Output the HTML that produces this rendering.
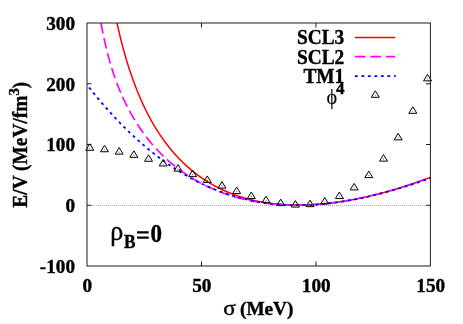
<!DOCTYPE html>
<html><head><meta charset="utf-8"><style>
html,body{margin:0;padding:0;background:#fff;}
svg{display:block;will-change:transform;}
text{font-family:"Liberation Serif",serif;font-weight:bold;font-size:19.7px;fill:#000;stroke:#000;stroke-width:0.4px;stroke-linejoin:round;}
.sym{font-weight:normal;stroke-width:0.15px;}
</style></head><body>
<svg width="463" height="324" viewBox="0 0 463 324">
<rect width="463" height="324" fill="#fff"/>
<path d="M92,205.45 H426" stroke="#aaaaaa" stroke-width="1" stroke-dasharray="1 1" fill="none"/>
<g fill="none" stroke-width="1.65" stroke-linejoin="round">
<path d="M117.01,23.00 L117.49,25.19 L118.06,27.75 L118.63,30.25 L119.21,32.70 L119.78,35.11 L120.35,37.46 L120.93,39.77 L121.50,42.03 L122.07,44.25 L122.65,46.43 L123.22,48.56 L123.79,50.66 L124.37,52.72 L124.94,54.74 L125.51,56.73 L126.09,58.68 L126.66,60.60 L127.23,62.48 L127.80,64.34 L128.38,66.16 L128.95,67.95 L129.52,69.71 L130.10,71.45 L130.67,73.15 L131.24,74.83 L131.82,76.49 L132.39,78.11 L132.96,79.71 L133.54,81.29 L134.11,82.84 L134.68,84.37 L135.25,85.88 L135.83,87.36 L136.40,88.83 L136.97,90.27 L137.55,91.69 L138.12,93.09 L138.69,94.47 L139.27,95.83 L139.84,97.17 L140.41,98.50 L140.99,99.80 L141.56,101.09 L142.13,102.36 L142.70,103.61 L143.28,104.85 L143.85,106.07 L144.42,107.27 L145.00,108.46 L145.57,109.63 L146.14,110.79 L146.72,111.93 L147.29,113.06 L147.86,114.17 L148.44,115.27 L149.01,116.36 L149.58,117.43 L150.16,118.49 L150.73,119.54 L151.30,120.57 L151.87,121.59 L152.45,122.60 L153.02,123.59 L153.59,124.57 L154.17,125.55 L154.74,126.51 L155.31,127.45 L155.89,128.39 L156.46,129.32 L157.03,130.23 L157.61,131.14 L158.18,132.03 L158.75,132.92 L159.32,133.79 L159.90,134.65 L160.47,135.51 L161.04,136.35 L161.62,137.19 L162.19,138.01 L162.76,138.83 L163.34,139.63 L163.91,140.43 L164.48,141.22 L165.06,142.00 L165.63,142.77 L166.20,143.53 L166.78,144.29 L167.35,145.03 L167.92,145.77 L168.49,146.50 L169.07,147.22 L169.64,147.93 L170.21,148.64 L170.79,149.34 L171.36,150.03 L171.93,150.71 L172.51,151.39 L173.08,152.06 L173.65,152.72 L174.23,153.38 L174.80,154.02 L175.37,154.66 L175.94,155.30 L176.52,155.93 L177.09,156.55 L177.66,157.16 L178.24,157.77 L178.81,158.37 L179.38,158.97 L179.96,159.55 L180.53,160.14 L181.10,160.71 L181.68,161.28 L182.25,161.85 L182.82,162.41 L183.39,162.96 L183.97,163.51 L184.54,164.05 L185.11,164.58 L185.69,165.11 L186.26,165.64 L186.83,166.16 L187.41,166.67 L187.98,167.18 L188.55,167.69 L189.13,168.18 L189.70,168.68 L190.27,169.16 L190.85,169.65 L191.42,170.13 L191.99,170.60 L192.56,171.07 L193.14,171.53 L193.71,171.99 L194.28,172.44 L194.86,172.89 L195.43,173.34 L196.00,173.78 L196.58,174.21 L197.15,174.64 L197.72,175.07 L198.30,175.49 L198.87,175.91 L199.44,176.32 L200.01,176.73 L200.59,177.14 L201.16,177.54 L201.73,177.93 L202.31,178.32 L202.88,178.71 L203.45,179.10 L204.03,179.48 L204.60,179.85 L205.17,180.23 L205.75,180.59 L206.32,180.96 L206.89,181.32 L207.46,181.68 L208.04,182.03 L208.61,182.38 L209.18,182.72 L209.76,183.07 L210.33,183.40 L210.90,183.74 L211.48,184.07 L212.05,184.40 L212.62,184.72 L213.20,185.04 L213.77,185.36 L214.34,185.67 L214.92,185.99 L215.49,186.29 L216.06,186.60 L216.63,186.90 L217.21,187.19 L217.78,187.49 L218.35,187.78 L218.93,188.07 L219.50,188.35 L220.07,188.63 L220.65,188.91 L221.22,189.18 L221.79,189.46 L222.37,189.73 L222.94,189.99 L223.51,190.25 L224.08,190.51 L224.66,190.77 L225.23,191.02 L225.80,191.28 L226.38,191.52 L226.95,191.77 L227.52,192.01 L228.10,192.25 L228.67,192.49 L229.24,192.72 L229.82,192.95 L230.39,193.18 L230.96,193.41 L231.54,193.63 L232.11,193.85 L232.68,194.07 L233.25,194.28 L233.83,194.50 L234.40,194.71 L234.97,194.91 L235.55,195.12 L236.12,195.32 L236.69,195.52 L237.27,195.72 L237.84,195.91 L238.41,196.11 L238.99,196.30 L239.56,196.48 L240.13,196.67 L240.70,196.85 L241.28,197.03 L241.85,197.21 L242.42,197.38 L243.00,197.56 L243.57,197.73 L244.14,197.90 L244.72,198.06 L245.29,198.22 L245.86,198.39 L246.44,198.55 L247.01,198.70 L247.58,198.86 L248.15,199.01 L248.73,199.16 L249.30,199.31 L249.87,199.45 L250.45,199.60 L251.02,199.74 L251.59,199.88 L252.17,200.02 L252.74,200.15 L253.31,200.29 L253.89,200.42 L254.46,200.55 L255.03,200.67 L255.61,200.80 L256.18,200.92 L256.75,201.04 L257.32,201.16 L257.90,201.28 L258.47,201.39 L259.04,201.51 L259.62,201.62 L260.19,201.73 L260.76,201.83 L261.34,201.94 L261.91,202.04 L262.48,202.14 L263.06,202.24 L263.63,202.34 L264.20,202.44 L264.77,202.53 L265.35,202.62 L265.92,202.71 L266.49,202.80 L267.07,202.89 L267.64,202.97 L268.21,203.06 L268.79,203.14 L269.36,203.22 L269.93,203.29 L270.51,203.37 L271.08,203.44 L271.65,203.52 L272.23,203.59 L272.80,203.66 L273.37,203.72 L273.94,203.79 L274.52,203.85 L275.09,203.91 L275.66,203.98 L276.24,204.03 L276.81,204.09 L277.38,204.15 L277.96,204.20 L278.53,204.25 L279.10,204.30 L279.68,204.35 L280.25,204.40 L280.82,204.45 L281.39,204.49 L281.97,204.53 L282.54,204.57 L283.11,204.61 L283.69,204.65 L284.26,204.69 L284.83,204.72 L285.41,204.76 L285.98,204.79 L286.55,204.82 L287.13,204.85 L287.70,204.87 L288.27,204.90 L288.84,204.92 L289.42,204.95 L289.99,204.97 L290.56,204.99 L291.14,205.01 L291.71,205.02 L292.28,205.04 L292.86,205.05 L293.43,205.07 L294.00,205.08 L294.58,205.09 L295.15,205.10 L295.72,205.10 L296.30,205.11 L296.87,205.11 L297.44,205.12 L298.01,205.12 L298.59,205.12 L299.16,205.12 L299.73,205.11 L300.31,205.11 L300.88,205.10 L301.45,205.10 L302.03,205.09 L302.60,205.08 L303.17,205.07 L303.75,205.06 L304.32,205.04 L304.89,205.03 L305.46,205.01 L306.04,204.99 L306.61,204.98 L307.18,204.96 L307.76,204.94 L308.33,204.91 L308.90,204.89 L309.48,204.86 L310.05,204.84 L310.62,204.81 L311.20,204.78 L311.77,204.75 L312.34,204.72 L312.91,204.69 L313.49,204.65 L314.06,204.62 L314.63,204.58 L315.21,204.55 L315.78,204.51 L316.35,204.47 L316.93,204.43 L317.50,204.38 L318.07,204.34 L318.65,204.30 L319.22,204.25 L319.79,204.20 L320.37,204.16 L320.94,204.11 L321.51,204.06 L322.08,204.00 L322.66,203.95 L323.23,203.90 L323.80,203.84 L324.38,203.79 L324.95,203.73 L325.52,203.67 L326.10,203.61 L326.67,203.55 L327.24,203.49 L327.82,203.43 L328.39,203.36 L328.96,203.30 L329.53,203.23 L330.11,203.16 L330.68,203.10 L331.25,203.03 L331.83,202.96 L332.40,202.88 L332.97,202.81 L333.55,202.74 L334.12,202.66 L334.69,202.59 L335.27,202.51 L335.84,202.43 L336.41,202.35 L336.99,202.27 L337.56,202.19 L338.13,202.11 L338.70,202.03 L339.28,201.94 L339.85,201.86 L340.42,201.77 L341.00,201.68 L341.57,201.60 L342.14,201.51 L342.72,201.42 L343.29,201.32 L343.86,201.23 L344.44,201.14 L345.01,201.04 L345.58,200.95 L346.15,200.85 L346.73,200.75 L347.30,200.66 L347.87,200.56 L348.45,200.46 L349.02,200.36 L349.59,200.25 L350.17,200.15 L350.74,200.05 L351.31,199.94 L351.89,199.83 L352.46,199.73 L353.03,199.62 L353.60,199.51 L354.18,199.40 L354.75,199.29 L355.32,199.18 L355.90,199.07 L356.47,198.95 L357.04,198.84 L357.62,198.72 L358.19,198.61 L358.76,198.49 L359.34,198.37 L359.91,198.25 L360.48,198.13 L361.06,198.01 L361.63,197.89 L362.20,197.76 L362.77,197.64 L363.35,197.52 L363.92,197.39 L364.49,197.26 L365.07,197.14 L365.64,197.01 L366.21,196.88 L366.79,196.75 L367.36,196.62 L367.93,196.49 L368.51,196.36 L369.08,196.22 L369.65,196.09 L370.22,195.95 L370.80,195.82 L371.37,195.68 L371.94,195.54 L372.52,195.40 L373.09,195.26 L373.66,195.12 L374.24,194.98 L374.81,194.84 L375.38,194.70 L375.96,194.55 L376.53,194.41 L377.10,194.26 L377.68,194.12 L378.25,193.97 L378.82,193.82 L379.39,193.67 L379.97,193.52 L380.54,193.37 L381.11,193.22 L381.69,193.07 L382.26,192.92 L382.83,192.76 L383.41,192.61 L383.98,192.45 L384.55,192.30 L385.13,192.14 L385.70,191.98 L386.27,191.83 L386.84,191.67 L387.42,191.51 L387.99,191.35 L388.56,191.18 L389.14,191.02 L389.71,190.86 L390.28,190.70 L390.86,190.53 L391.43,190.36 L392.00,190.20 L392.58,190.03 L393.15,189.86 L393.72,189.70 L394.29,189.53 L394.87,189.36 L395.44,189.18 L396.01,189.01 L396.59,188.84 L397.16,188.67 L397.73,188.49 L398.31,188.32 L398.88,188.14 L399.45,187.97 L400.03,187.79 L400.60,187.61 L401.17,187.43 L401.75,187.26 L402.32,187.08 L402.89,186.89 L403.46,186.71 L404.04,186.53 L404.61,186.35 L405.18,186.16 L405.76,185.98 L406.33,185.80 L406.90,185.61 L407.48,185.42 L408.05,185.24 L408.62,185.05 L409.20,184.86 L409.77,184.67 L410.34,184.48 L410.91,184.29 L411.49,184.10 L412.06,183.91 L412.63,183.71 L413.21,183.52 L413.78,183.32 L414.35,183.13 L414.93,182.93 L415.50,182.74 L416.07,182.54 L416.65,182.34 L417.22,182.14 L417.79,181.94 L418.36,181.74 L418.94,181.54 L419.51,181.34 L420.08,181.14 L420.66,180.94 L421.23,180.73 L421.80,180.53 L422.38,180.33 L422.95,180.12 L423.52,179.91 L424.10,179.71 L424.67,179.50 L425.24,179.29 L425.82,179.08 L426.39,178.87 L426.96,178.66 L427.53,178.45 L428.11,178.24 L428.68,178.03 L429.25,177.82 L429.83,177.60 L430.40,177.39" stroke="#ff0000" stroke-width="1.5"/>
<path d="M100.99,23.00 L101.44,25.50 L102.02,28.57 L102.59,31.52 L103.16,34.36 L103.73,37.11 L104.31,39.77 L104.88,42.34 L105.45,44.83 L106.03,47.25 L106.60,49.60 L107.17,51.88 L107.75,54.09 L108.32,56.25 L108.89,58.35 L109.47,60.40 L110.04,62.40 L110.61,64.34 L111.18,66.24 L111.76,68.10 L112.33,69.92 L112.90,71.69 L113.48,73.43 L114.05,75.13 L114.62,76.80 L115.20,78.43 L115.77,80.02 L116.34,81.59 L116.92,83.13 L117.49,84.63 L118.06,86.11 L118.63,87.56 L119.21,88.99 L119.78,90.39 L120.35,91.77 L120.93,93.12 L121.50,94.45 L122.07,95.75 L122.65,97.04 L123.22,98.31 L123.79,99.55 L124.37,100.78 L124.94,101.98 L125.51,103.17 L126.09,104.34 L126.66,105.49 L127.23,106.63 L127.80,107.75 L128.38,108.85 L128.95,109.94 L129.52,111.01 L130.10,112.06 L130.67,113.11 L131.24,114.13 L131.82,115.15 L132.39,116.15 L132.96,117.14 L133.54,118.11 L134.11,119.07 L134.68,120.02 L135.25,120.96 L135.83,121.89 L136.40,122.80 L136.97,123.70 L137.55,124.60 L138.12,125.48 L138.69,126.35 L139.27,127.21 L139.84,128.06 L140.41,128.90 L140.99,129.73 L141.56,130.55 L142.13,131.36 L142.70,132.16 L143.28,132.96 L143.85,133.74 L144.42,134.52 L145.00,135.28 L145.57,136.04 L146.14,136.79 L146.72,137.53 L147.29,138.27 L147.86,138.99 L148.44,139.71 L149.01,140.42 L149.58,141.13 L150.16,141.82 L150.73,142.51 L151.30,143.19 L151.87,143.87 L152.45,144.53 L153.02,145.20 L153.59,145.85 L154.17,146.50 L154.74,147.14 L155.31,147.77 L155.89,148.40 L156.46,149.02 L157.03,149.64 L157.61,150.25 L158.18,150.85 L158.75,151.45 L159.32,152.04 L159.90,152.63 L160.47,153.21 L161.04,153.78 L161.62,154.35 L162.19,154.92 L162.76,155.48 L163.34,156.03 L163.91,156.58 L164.48,157.12 L165.06,157.66 L165.63,158.19 L166.20,158.72 L166.78,159.24 L167.35,159.76 L167.92,160.27 L168.49,160.78 L169.07,161.29 L169.64,161.79 L170.21,162.28 L170.79,162.77 L171.36,163.26 L171.93,163.74 L172.51,164.21 L173.08,164.69 L173.65,165.16 L174.23,165.62 L174.80,166.08 L175.37,166.53 L175.94,166.99 L176.52,167.43 L177.09,167.88 L177.66,168.32 L178.24,168.75 L178.81,169.18 L179.38,169.61 L179.96,170.03 L180.53,170.45 L181.10,170.87 L181.68,171.28 L182.25,171.69 L182.82,172.10 L183.39,172.50 L183.97,172.90 L184.54,173.29 L185.11,173.68 L185.69,174.07 L186.26,174.45 L186.83,174.83 L187.41,175.21 L187.98,175.58 L188.55,175.95 L189.13,176.32 L189.70,176.68 L190.27,177.04 L190.85,177.40 L191.42,177.76 L191.99,178.11 L192.56,178.45 L193.14,178.80 L193.71,179.14 L194.28,179.48 L194.86,179.81 L195.43,180.15 L196.00,180.48 L196.58,180.80 L197.15,181.13 L197.72,181.45 L198.30,181.76 L198.87,182.08 L199.44,182.39 L200.01,182.70 L200.59,183.01 L201.16,183.31 L201.73,183.61 L202.31,183.91 L202.88,184.20 L203.45,184.49 L204.03,184.78 L204.60,185.07 L205.17,185.36 L205.75,185.64 L206.32,185.92 L206.89,186.19 L207.46,186.47 L208.04,186.74 L208.61,187.01 L209.18,187.27 L209.76,187.54 L210.33,187.80 L210.90,188.06 L211.48,188.31 L212.05,188.57 L212.62,188.82 L213.20,189.07 L213.77,189.31 L214.34,189.56 L214.92,189.80 L215.49,190.04 L216.06,190.27 L216.63,190.51 L217.21,190.74 L217.78,190.97 L218.35,191.20 L218.93,191.43 L219.50,191.65 L220.07,191.87 L220.65,192.09 L221.22,192.30 L221.79,192.52 L222.37,192.73 L222.94,192.94 L223.51,193.15 L224.08,193.35 L224.66,193.56 L225.23,193.76 L225.80,193.96 L226.38,194.15 L226.95,194.35 L227.52,194.54 L228.10,194.73 L228.67,194.92 L229.24,195.11 L229.82,195.29 L230.39,195.48 L230.96,195.66 L231.54,195.84 L232.11,196.01 L232.68,196.19 L233.25,196.36 L233.83,196.53 L234.40,196.70 L234.97,196.86 L235.55,197.03 L236.12,197.19 L236.69,197.35 L237.27,197.51 L237.84,197.67 L238.41,197.82 L238.99,197.98 L239.56,198.13 L240.13,198.28 L240.70,198.43 L241.28,198.57 L241.85,198.72 L242.42,198.86 L243.00,199.00 L243.57,199.14 L244.14,199.27 L244.72,199.41 L245.29,199.54 L245.86,199.67 L246.44,199.80 L247.01,199.93 L247.58,200.06 L248.15,200.18 L248.73,200.31 L249.30,200.43 L249.87,200.55 L250.45,200.66 L251.02,200.78 L251.59,200.89 L252.17,201.01 L252.74,201.12 L253.31,201.23 L253.89,201.33 L254.46,201.44 L255.03,201.54 L255.61,201.64 L256.18,201.75 L256.75,201.84 L257.32,201.94 L257.90,202.04 L258.47,202.13 L259.04,202.23 L259.62,202.32 L260.19,202.41 L260.76,202.49 L261.34,202.58 L261.91,202.67 L262.48,202.75 L263.06,202.83 L263.63,202.91 L264.20,202.99 L264.77,203.07 L265.35,203.14 L265.92,203.22 L266.49,203.29 L267.07,203.36 L267.64,203.43 L268.21,203.50 L268.79,203.56 L269.36,203.63 L269.93,203.69 L270.51,203.75 L271.08,203.81 L271.65,203.87 L272.23,203.93 L272.80,203.99 L273.37,204.04 L273.94,204.09 L274.52,204.15 L275.09,204.20 L275.66,204.25 L276.24,204.29 L276.81,204.34 L277.38,204.38 L277.96,204.43 L278.53,204.47 L279.10,204.51 L279.68,204.55 L280.25,204.59 L280.82,204.62 L281.39,204.66 L281.97,204.69 L282.54,204.72 L283.11,204.75 L283.69,204.78 L284.26,204.81 L284.83,204.84 L285.41,204.86 L285.98,204.89 L286.55,204.91 L287.13,204.93 L287.70,204.95 L288.27,204.97 L288.84,204.99 L289.42,205.00 L289.99,205.02 L290.56,205.03 L291.14,205.04 L291.71,205.05 L292.28,205.06 L292.86,205.07 L293.43,205.08 L294.00,205.09 L294.58,205.09 L295.15,205.09 L295.72,205.10 L296.30,205.10 L296.87,205.10 L297.44,205.09 L298.01,205.09 L298.59,205.09 L299.16,205.08 L299.73,205.07 L300.31,205.07 L300.88,205.06 L301.45,205.05 L302.03,205.03 L302.60,205.02 L303.17,205.01 L303.75,204.99 L304.32,204.98 L304.89,204.96 L305.46,204.94 L306.04,204.92 L306.61,204.90 L307.18,204.87 L307.76,204.85 L308.33,204.83 L308.90,204.80 L309.48,204.77 L310.05,204.74 L310.62,204.71 L311.20,204.68 L311.77,204.65 L312.34,204.62 L312.91,204.58 L313.49,204.55 L314.06,204.51 L314.63,204.48 L315.21,204.44 L315.78,204.40 L316.35,204.36 L316.93,204.31 L317.50,204.27 L318.07,204.23 L318.65,204.18 L319.22,204.13 L319.79,204.09 L320.37,204.04 L320.94,203.99 L321.51,203.94 L322.08,203.88 L322.66,203.83 L323.23,203.78 L323.80,203.72 L324.38,203.67 L324.95,203.61 L325.52,203.55 L326.10,203.49 L326.67,203.43 L327.24,203.37 L327.82,203.30 L328.39,203.24 L328.96,203.18 L329.53,203.11 L330.11,203.04 L330.68,202.97 L331.25,202.90 L331.83,202.83 L332.40,202.76 L332.97,202.69 L333.55,202.62 L334.12,202.54 L334.69,202.47 L335.27,202.39 L335.84,202.31 L336.41,202.24 L336.99,202.16 L337.56,202.08 L338.13,201.99 L338.70,201.91 L339.28,201.83 L339.85,201.74 L340.42,201.66 L341.00,201.57 L341.57,201.48 L342.14,201.40 L342.72,201.31 L343.29,201.22 L343.86,201.12 L344.44,201.03 L345.01,200.94 L345.58,200.84 L346.15,200.75 L346.73,200.65 L347.30,200.55 L347.87,200.46 L348.45,200.36 L349.02,200.26 L349.59,200.16 L350.17,200.05 L350.74,199.95 L351.31,199.85 L351.89,199.74 L352.46,199.64 L353.03,199.53 L353.60,199.42 L354.18,199.31 L354.75,199.20 L355.32,199.09 L355.90,198.98 L356.47,198.87 L357.04,198.75 L357.62,198.64 L358.19,198.53 L358.76,198.41 L359.34,198.29 L359.91,198.17 L360.48,198.06 L361.06,197.94 L361.63,197.81 L362.20,197.69 L362.77,197.57 L363.35,197.45 L363.92,197.32 L364.49,197.20 L365.07,197.07 L365.64,196.95 L366.21,196.82 L366.79,196.69 L367.36,196.56 L367.93,196.43 L368.51,196.30 L369.08,196.17 L369.65,196.03 L370.22,195.90 L370.80,195.76 L371.37,195.63 L371.94,195.49 L372.52,195.35 L373.09,195.22 L373.66,195.08 L374.24,194.94 L374.81,194.80 L375.38,194.65 L375.96,194.51 L376.53,194.37 L377.10,194.22 L377.68,194.08 L378.25,193.93 L378.82,193.79 L379.39,193.64 L379.97,193.49 L380.54,193.34 L381.11,193.19 L381.69,193.04 L382.26,192.89 L382.83,192.74 L383.41,192.58 L383.98,192.43 L384.55,192.27 L385.13,192.12 L385.70,191.96 L386.27,191.80 L386.84,191.65 L387.42,191.49 L387.99,191.33 L388.56,191.17 L389.14,191.01 L389.71,190.84 L390.28,190.68 L390.86,190.52 L391.43,190.35 L392.00,190.19 L392.58,190.02 L393.15,189.85 L393.72,189.69 L394.29,189.52 L394.87,189.35 L395.44,189.18 L396.01,189.01 L396.59,188.84 L397.16,188.66 L397.73,188.49 L398.31,188.32 L398.88,188.14 L399.45,187.97 L400.03,187.79 L400.60,187.61 L401.17,187.44 L401.75,187.26 L402.32,187.08 L402.89,186.90 L403.46,186.72 L404.04,186.54 L404.61,186.36 L405.18,186.17 L405.76,185.99 L406.33,185.80 L406.90,185.62 L407.48,185.43 L408.05,185.25 L408.62,185.06 L409.20,184.87 L409.77,184.68 L410.34,184.49 L410.91,184.30 L411.49,184.11 L412.06,183.92 L412.63,183.73 L413.21,183.54 L413.78,183.34 L414.35,183.15 L414.93,182.95 L415.50,182.76 L416.07,182.56 L416.65,182.36 L417.22,182.16 L417.79,181.97 L418.36,181.77 L418.94,181.57 L419.51,181.36 L420.08,181.16 L420.66,180.96 L421.23,180.76 L421.80,180.55 L422.38,180.35 L422.95,180.15 L423.52,179.94 L424.10,179.73 L424.67,179.53 L425.24,179.32 L425.82,179.11 L426.39,178.90 L426.96,178.69 L427.53,178.48 L428.11,178.27 L428.68,178.06 L429.25,177.85 L429.83,177.63 L430.40,177.42" stroke="#ff00ff" stroke-dasharray="10.7 4.75"/>
<path d="M87.11,84.93 L87.69,85.67 L88.26,86.40 L88.83,87.13 L89.41,87.86 L89.98,88.58 L90.55,89.30 L91.13,90.02 L91.70,90.74 L92.27,91.45 L92.85,92.16 L93.42,92.87 L93.99,93.57 L94.56,94.28 L95.14,94.98 L95.71,95.68 L96.28,96.37 L96.86,97.06 L97.43,97.75 L98.00,98.44 L98.58,99.13 L99.15,99.81 L99.72,100.49 L100.30,101.17 L100.87,101.84 L101.44,102.51 L102.02,103.18 L102.59,103.85 L103.16,104.51 L103.73,105.17 L104.31,105.83 L104.88,106.49 L105.45,107.14 L106.03,107.80 L106.60,108.45 L107.17,109.09 L107.75,109.74 L108.32,110.38 L108.89,111.02 L109.47,111.65 L110.04,112.29 L110.61,112.92 L111.18,113.55 L111.76,114.17 L112.33,114.80 L112.90,115.42 L113.48,116.04 L114.05,116.65 L114.62,117.27 L115.20,117.88 L115.77,118.49 L116.34,119.10 L116.92,119.70 L117.49,120.30 L118.06,120.90 L118.63,121.50 L119.21,122.09 L119.78,122.68 L120.35,123.27 L120.93,123.86 L121.50,124.44 L122.07,125.02 L122.65,125.60 L123.22,126.18 L123.79,126.76 L124.37,127.33 L124.94,127.90 L125.51,128.46 L126.09,129.03 L126.66,129.59 L127.23,130.15 L127.80,130.71 L128.38,131.27 L128.95,131.82 L129.52,132.37 L130.10,132.92 L130.67,133.46 L131.24,134.01 L131.82,134.55 L132.39,135.08 L132.96,135.62 L133.54,136.15 L134.11,136.69 L134.68,137.21 L135.25,137.74 L135.83,138.27 L136.40,138.79 L136.97,139.31 L137.55,139.82 L138.12,140.34 L138.69,140.85 L139.27,141.36 L139.84,141.87 L140.41,142.38 L140.99,142.88 L141.56,143.38 L142.13,143.88 L142.70,144.37 L143.28,144.87 L143.85,145.36 L144.42,145.85 L145.00,146.34 L145.57,146.82 L146.14,147.30 L146.72,147.78 L147.29,148.26 L147.86,148.74 L148.44,149.21 L149.01,149.68 L149.58,150.15 L150.16,150.61 L150.73,151.08 L151.30,151.54 L151.87,152.00 L152.45,152.46 L153.02,152.91 L153.59,153.36 L154.17,153.81 L154.74,154.26 L155.31,154.71 L155.89,155.15 L156.46,155.59 L157.03,156.03 L157.61,156.47 L158.18,156.91 L158.75,157.34 L159.32,157.77 L159.90,158.20 L160.47,158.62 L161.04,159.05 L161.62,159.47 L162.19,159.89 L162.76,160.30 L163.34,160.72 L163.91,161.13 L164.48,161.54 L165.06,161.95 L165.63,162.36 L166.20,162.76 L166.78,163.16 L167.35,163.56 L167.92,163.96 L168.49,164.36 L169.07,164.75 L169.64,165.14 L170.21,165.53 L170.79,165.91 L171.36,166.30 L171.93,166.68 L172.51,167.06 L173.08,167.44 L173.65,167.82 L174.23,168.19 L174.80,168.56 L175.37,168.93 L175.94,169.30 L176.52,169.66 L177.09,170.03 L177.66,170.39 L178.24,170.75 L178.81,171.10 L179.38,171.46 L179.96,171.81 L180.53,172.16 L181.10,172.51 L181.68,172.86 L182.25,173.20 L182.82,173.54 L183.39,173.89 L183.97,174.22 L184.54,174.56 L185.11,174.89 L185.69,175.23 L186.26,175.56 L186.83,175.88 L187.41,176.21 L187.98,176.53 L188.55,176.85 L189.13,177.17 L189.70,177.49 L190.27,177.81 L190.85,178.12 L191.42,178.43 L191.99,178.74 L192.56,179.05 L193.14,179.36 L193.71,179.66 L194.28,179.96 L194.86,180.26 L195.43,180.56 L196.00,180.85 L196.58,181.15 L197.15,181.44 L197.72,181.73 L198.30,182.02 L198.87,182.30 L199.44,182.59 L200.01,182.87 L200.59,183.15 L201.16,183.43 L201.73,183.70 L202.31,183.98 L202.88,184.25 L203.45,184.52 L204.03,184.79 L204.60,185.05 L205.17,185.32 L205.75,185.58 L206.32,185.84 L206.89,186.10 L207.46,186.35 L208.04,186.61 L208.61,186.86 L209.18,187.11 L209.76,187.36 L210.33,187.61 L210.90,187.85 L211.48,188.09 L212.05,188.34 L212.62,188.58 L213.20,188.81 L213.77,189.05 L214.34,189.28 L214.92,189.51 L215.49,189.74 L216.06,189.97 L216.63,190.20 L217.21,190.42 L217.78,190.65 L218.35,190.87 L218.93,191.08 L219.50,191.30 L220.07,191.52 L220.65,191.73 L221.22,191.94 L221.79,192.15 L222.37,192.36 L222.94,192.56 L223.51,192.77 L224.08,192.97 L224.66,193.17 L225.23,193.37 L225.80,193.57 L226.38,193.76 L226.95,193.96 L227.52,194.15 L228.10,194.34 L228.67,194.53 L229.24,194.71 L229.82,194.90 L230.39,195.08 L230.96,195.26 L231.54,195.44 L232.11,195.62 L232.68,195.79 L233.25,195.96 L233.83,196.14 L234.40,196.31 L234.97,196.48 L235.55,196.64 L236.12,196.81 L236.69,196.97 L237.27,197.13 L237.84,197.29 L238.41,197.45 L238.99,197.61 L239.56,197.76 L240.13,197.91 L240.70,198.07 L241.28,198.22 L241.85,198.36 L242.42,198.51 L243.00,198.65 L243.57,198.80 L244.14,198.94 L244.72,199.08 L245.29,199.22 L245.86,199.35 L246.44,199.49 L247.01,199.62 L247.58,199.75 L248.15,199.88 L248.73,200.01 L249.30,200.13 L249.87,200.26 L250.45,200.38 L251.02,200.50 L251.59,200.62 L252.17,200.74 L252.74,200.85 L253.31,200.97 L253.89,201.08 L254.46,201.19 L255.03,201.30 L255.61,201.41 L256.18,201.52 L256.75,201.62 L257.32,201.73 L257.90,201.83 L258.47,201.93 L259.04,202.03 L259.62,202.12 L260.19,202.22 L260.76,202.31 L261.34,202.41 L261.91,202.50 L262.48,202.59 L263.06,202.67 L263.63,202.76 L264.20,202.84 L264.77,202.93 L265.35,203.01 L265.92,203.09 L266.49,203.17 L267.07,203.24 L267.64,203.32 L268.21,203.39 L268.79,203.46 L269.36,203.53 L269.93,203.60 L270.51,203.67 L271.08,203.74 L271.65,203.80 L272.23,203.86 L272.80,203.93 L273.37,203.99 L273.94,204.04 L274.52,204.10 L275.09,204.16 L275.66,204.21 L276.24,204.26 L276.81,204.31 L277.38,204.36 L277.96,204.41 L278.53,204.46 L279.10,204.50 L279.68,204.55 L280.25,204.59 L280.82,204.63 L281.39,204.67 L281.97,204.71 L282.54,204.75 L283.11,204.78 L283.69,204.82 L284.26,204.85 L284.83,204.88 L285.41,204.91 L285.98,204.94 L286.55,204.96 L287.13,204.99 L287.70,205.01 L288.27,205.04 L288.84,205.06 L289.42,205.08 L289.99,205.09 L290.56,205.11 L291.14,205.13 L291.71,205.14 L292.28,205.15 L292.86,205.17 L293.43,205.18 L294.00,205.18 L294.58,205.19 L295.15,205.20 L295.72,205.20 L296.30,205.21 L296.87,205.21 L297.44,205.21 L298.01,205.21 L298.59,205.21 L299.16,205.21 L299.73,205.21 L300.31,205.20 L300.88,205.19 L301.45,205.19 L302.03,205.18 L302.60,205.17 L303.17,205.16 L303.75,205.14 L304.32,205.13 L304.89,205.12 L305.46,205.10 L306.04,205.08 L306.61,205.06 L307.18,205.04 L307.76,205.02 L308.33,205.00 L308.90,204.98 L309.48,204.95 L310.05,204.93 L310.62,204.90 L311.20,204.87 L311.77,204.84 L312.34,204.81 L312.91,204.78 L313.49,204.74 L314.06,204.71 L314.63,204.67 L315.21,204.64 L315.78,204.60 L316.35,204.56 L316.93,204.52 L317.50,204.48 L318.07,204.43 L318.65,204.39 L319.22,204.34 L319.79,204.30 L320.37,204.25 L320.94,204.20 L321.51,204.15 L322.08,204.10 L322.66,204.05 L323.23,203.99 L323.80,203.94 L324.38,203.88 L324.95,203.83 L325.52,203.77 L326.10,203.71 L326.67,203.65 L327.24,203.59 L327.82,203.53 L328.39,203.46 L328.96,203.40 L329.53,203.33 L330.11,203.27 L330.68,203.20 L331.25,203.13 L331.83,203.06 L332.40,202.99 L332.97,202.92 L333.55,202.84 L334.12,202.77 L334.69,202.70 L335.27,202.62 L335.84,202.54 L336.41,202.46 L336.99,202.38 L337.56,202.30 L338.13,202.22 L338.70,202.14 L339.28,202.06 L339.85,201.97 L340.42,201.88 L341.00,201.80 L341.57,201.71 L342.14,201.62 L342.72,201.53 L343.29,201.44 L343.86,201.35 L344.44,201.26 L345.01,201.16 L345.58,201.07 L346.15,200.97 L346.73,200.88 L347.30,200.78 L347.87,200.68 L348.45,200.58 L349.02,200.48 L349.59,200.38 L350.17,200.27 L350.74,200.17 L351.31,200.07 L351.89,199.96 L352.46,199.85 L353.03,199.75 L353.60,199.64 L354.18,199.53 L354.75,199.42 L355.32,199.31 L355.90,199.20 L356.47,199.08 L357.04,198.97 L357.62,198.86 L358.19,198.74 L358.76,198.62 L359.34,198.51 L359.91,198.39 L360.48,198.27 L361.06,198.15 L361.63,198.03 L362.20,197.91 L362.77,197.78 L363.35,197.66 L363.92,197.54 L364.49,197.41 L365.07,197.28 L365.64,197.16 L366.21,197.03 L366.79,196.90 L367.36,196.77 L367.93,196.64 L368.51,196.51 L369.08,196.38 L369.65,196.25 L370.22,196.11 L370.80,195.98 L371.37,195.84 L371.94,195.71 L372.52,195.57 L373.09,195.43 L373.66,195.29 L374.24,195.15 L374.81,195.01 L375.38,194.87 L375.96,194.73 L376.53,194.59 L377.10,194.45 L377.68,194.30 L378.25,194.16 L378.82,194.01 L379.39,193.87 L379.97,193.72 L380.54,193.57 L381.11,193.42 L381.69,193.27 L382.26,193.12 L382.83,192.97 L383.41,192.82 L383.98,192.67 L384.55,192.52 L385.13,192.36 L385.70,192.21 L386.27,192.05 L386.84,191.90 L387.42,191.74 L387.99,191.58 L388.56,191.43 L389.14,191.27 L389.71,191.11 L390.28,190.95 L390.86,190.79 L391.43,190.63 L392.00,190.47 L392.58,190.30 L393.15,190.14 L393.72,189.98 L394.29,189.81 L394.87,189.65 L395.44,189.48 L396.01,189.31 L396.59,189.15 L397.16,188.98 L397.73,188.81 L398.31,188.64 L398.88,188.47 L399.45,188.30 L400.03,188.13 L400.60,187.96 L401.17,187.79 L401.75,187.62 L402.32,187.44 L402.89,187.27 L403.46,187.09 L404.04,186.92 L404.61,186.74 L405.18,186.57 L405.76,186.39 L406.33,186.21 L406.90,186.04 L407.48,185.86 L408.05,185.68 L408.62,185.50 L409.20,185.32 L409.77,185.14 L410.34,184.96 L410.91,184.78 L411.49,184.60 L412.06,184.41 L412.63,184.23 L413.21,184.05 L413.78,183.86 L414.35,183.68 L414.93,183.49 L415.50,183.31 L416.07,183.12 L416.65,182.93 L417.22,182.75 L417.79,182.56 L418.36,182.37 L418.94,182.18 L419.51,181.99 L420.08,181.80 L420.66,181.61 L421.23,181.42 L421.80,181.23 L422.38,181.04 L422.95,180.85 L423.52,180.66 L424.10,180.46 L424.67,180.27 L425.24,180.08 L425.82,179.88 L426.39,179.69 L426.96,179.49 L427.53,179.30 L428.11,179.10 L428.68,178.91 L429.25,178.71 L429.83,178.51 L430.40,178.32" stroke="#0000ff" stroke-width="1.8" stroke-dasharray="2.8 3.7" stroke-dashoffset="3.2"/>
<path d="M354.9,37.45 H395.2" stroke="#ff0000" stroke-width="1.5"/>
<path d="M354.9,56.6 H395.1" stroke="#ff00ff" stroke-dasharray="10.7 4.75"/>
<path d="M354.9,76.1 H395.8" stroke="#0000ff" stroke-width="1.8" stroke-dasharray="2.8 3.7"/>
</g>
<g fill="none" stroke="#000" stroke-width="1"><path d="M85.81,150.30 L93.81,150.30 L89.81,143.80 Z"/><circle cx="89.81" cy="148.30" r="0.55" fill="#555" stroke="none"/><path d="M100.49,151.76 L108.49,151.76 L104.49,145.26 Z"/><circle cx="104.49" cy="149.76" r="0.55" fill="#555" stroke="none"/><path d="M115.17,154.12 L123.17,154.12 L119.17,147.62 Z"/><circle cx="119.17" cy="152.12" r="0.55" fill="#555" stroke="none"/><path d="M129.86,157.32 L137.86,157.32 L133.86,150.82 Z"/><circle cx="133.86" cy="155.32" r="0.55" fill="#555" stroke="none"/><path d="M144.54,161.29 L152.54,161.29 L148.54,154.79 Z"/><circle cx="148.54" cy="159.29" r="0.55" fill="#555" stroke="none"/><path d="M159.22,165.93 L167.22,165.93 L163.22,159.43 Z"/><circle cx="163.22" cy="163.93" r="0.55" fill="#555" stroke="none"/><path d="M173.91,171.10 L181.91,171.10 L177.91,164.60 Z"/><circle cx="177.91" cy="169.10" r="0.55" fill="#555" stroke="none"/><path d="M188.59,176.66 L196.59,176.66 L192.59,170.16 Z"/><circle cx="192.59" cy="174.66" r="0.55" fill="#555" stroke="none"/><path d="M203.27,182.41 L211.27,182.41 L207.27,175.91 Z"/><circle cx="207.27" cy="180.41" r="0.55" fill="#555" stroke="none"/><path d="M217.96,188.14 L225.96,188.14 L221.96,181.64 Z"/><circle cx="221.96" cy="186.14" r="0.55" fill="#555" stroke="none"/><path d="M232.64,193.60 L240.64,193.60 L236.64,187.10 Z"/><circle cx="236.64" cy="191.60" r="0.55" fill="#555" stroke="none"/><path d="M247.32,198.54 L255.32,198.54 L251.32,192.04 Z"/><circle cx="251.32" cy="196.54" r="0.55" fill="#555" stroke="none"/><path d="M262.01,202.66 L270.01,202.66 L266.01,196.16 Z"/><circle cx="266.01" cy="200.66" r="0.55" fill="#555" stroke="none"/><path d="M276.69,205.62 L284.69,205.62 L280.69,199.12 Z"/><circle cx="280.69" cy="203.62" r="0.55" fill="#555" stroke="none"/><path d="M291.37,207.08 L299.37,207.08 L295.37,200.58 Z"/><circle cx="295.37" cy="205.08" r="0.55" fill="#555" stroke="none"/><path d="M306.06,206.66 L314.06,206.66 L310.06,200.16 Z"/><circle cx="310.06" cy="204.66" r="0.55" fill="#555" stroke="none"/><path d="M320.74,203.95 L328.74,203.95 L324.74,197.45 Z"/><circle cx="324.74" cy="201.95" r="0.55" fill="#555" stroke="none"/><path d="M335.42,198.52 L343.42,198.52 L339.42,192.02 Z"/><circle cx="339.42" cy="196.52" r="0.55" fill="#555" stroke="none"/><path d="M350.11,189.90 L358.11,189.90 L354.11,183.40 Z"/><circle cx="354.11" cy="187.90" r="0.55" fill="#555" stroke="none"/><path d="M364.79,177.60 L372.79,177.60 L368.79,171.10 Z"/><circle cx="368.79" cy="175.60" r="0.55" fill="#555" stroke="none"/><path d="M379.47,161.11 L387.47,161.11 L383.47,154.61 Z"/><circle cx="383.47" cy="159.11" r="0.55" fill="#555" stroke="none"/><path d="M394.16,139.87 L402.16,139.87 L398.16,133.37 Z"/><circle cx="398.16" cy="137.87" r="0.55" fill="#555" stroke="none"/><path d="M408.84,113.32 L416.84,113.32 L412.84,106.82 Z"/><circle cx="412.84" cy="111.32" r="0.55" fill="#555" stroke="none"/><path d="M423.52,80.85 L431.52,80.85 L427.52,74.35 Z"/><circle cx="427.52" cy="78.85" r="0.55" fill="#555" stroke="none"/><path d="M371.30,97.30 L379.30,97.30 L375.30,90.80 Z"/><circle cx="375.30" cy="95.30" r="0.55" fill="#555" stroke="none"/></g>
<g fill="none" stroke="#1c1c1c" stroke-width="1">
<rect x="87.0" y="23.0" width="343.4" height="243.0"/>
<path d="M87.00,83.75 h4.5 M430.40,83.75 h-4.5"/><path d="M87.00,144.50 h4.5 M430.40,144.50 h-4.5"/><path d="M87.00,205.25 h4.5 M430.40,205.25 h-4.5"/><path d="M201.47,266.00 v-4.5 M201.47,23.00 v4.5"/><path d="M315.93,266.00 v-4.5 M315.93,23.00 v4.5"/>
</g>
<text transform="translate(75.0,29.80) scale(0.975,1)" text-anchor="end">300</text><text transform="translate(75.0,90.55) scale(0.975,1)" text-anchor="end">200</text><text transform="translate(75.0,151.30) scale(0.975,1)" text-anchor="end">100</text><text transform="translate(75.0,212.05) scale(0.975,1)" text-anchor="end">0</text><text transform="translate(75.0,272.80) scale(0.975,1)" text-anchor="end">-100</text>
<text transform="translate(87.30,292.2) scale(0.975,1)" text-anchor="middle">0</text><text transform="translate(201.77,292.2) scale(0.975,1)" text-anchor="middle">50</text><text transform="translate(316.23,292.2) scale(0.975,1)" text-anchor="middle">100</text><text transform="translate(430.70,292.2) scale(0.975,1)" text-anchor="middle">150</text>
<text transform="translate(240.0,315) scale(1.03,1)" style="font-size:18.7px">(MeV)</text>
<text transform="translate(223.3,315.1) scale(1.10,1)" class="sym" style="font-size:20.9px;stroke-width:0.45px">σ</text>
<text transform="translate(27.0,144.7) rotate(-90) scale(0.955,1)" text-anchor="middle" style="font-size:20.3px">E/V (MeV/fm<tspan dy="-8" style="font-size:15.5px">3</tspan><tspan dy="8">)</tspan></text>
<text transform="translate(344.3,44.2) scale(0.95,1)" text-anchor="end" style="font-size:20.4px">SCL3</text>
<text transform="translate(344.3,63.8) scale(0.95,1)" text-anchor="end" style="font-size:20.4px">SCL2</text>
<text transform="translate(344.3,83.0) scale(0.95,1)" text-anchor="end" style="font-size:20.4px">TM1</text>
<text x="326.6" y="104.2" class="sym" style="font-size:20.2px">ϕ</text>
<text transform="translate(344.6,93.7) scale(1.0,1)" text-anchor="end" style="font-size:17px">4</text>
<text transform="translate(110.3,240.2) scale(0.98,1)" class="sym" style="font-size:26.6px;stroke-width:0.4px">ρ</text>
<text transform="translate(135.6,248.0) scale(0.9,1)" text-anchor="end" style="font-size:19.2px">B</text>
<path d="M137.1,231.3 h11.6 v2.2 h-11.6 Z M137.1,236.6 h11.6 v2.2 h-11.6 Z" fill="#000"/>
<text transform="translate(150.4,241.6) scale(0.88,1)" style="font-size:26.2px">0</text>
</svg>
</body></html>
